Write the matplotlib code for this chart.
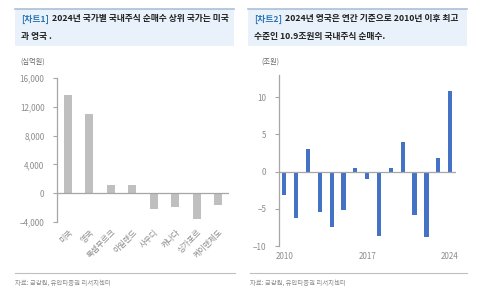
import matplotlib
matplotlib.use("Agg")
import matplotlib.pyplot as plt
from matplotlib.patches import Rectangle
from matplotlib.lines import Line2D
from matplotlib.ticker import StrMethodFormatter

plt.rcParams['font.family'] = ['Noto Sans CJK KR', 'DejaVu Sans']
plt.rcParams['axes.unicode_minus'] = True

# chart 1: 2024 country net buying (billion KRW)
countries = ["미국", "영국", "룩셈부르크", "아일랜드", "사우디", "캐나다", "싱가포르", "케이맨제도"]
net_buy_2024 = [13700, 11000, 1200, 1200, -2200, -1900, -3600, -1700]

# chart 2: UK yearly net buying (trillion KRW)
years = list(range(2010, 2025))
uk_net_buy = [-3.1, -6.2, 3.1, -5.4, -7.4, -5.2, 0.5, -1.0, -8.7, 0.5, 4.0, -5.8, -8.8, 1.9, 10.9]
year_ticks = [2010, 2017, 2024]

W, H = 500, 292
fig = plt.figure(figsize=(W / 100, H / 100), dpi=100)

GRAY_TXT = "#8c8c8c"
AXIS_C = "#a6a6a6"
TITLE_FS = 6.3


def fx(px):
    return px / W


def fy(py):
    return 1 - py / H


def header(x0, x1, tag, rest1, line2):
    fig.patches.append(Rectangle((fx(x0), fy(46)), fx(x1 - x0), (46 - 9) / H,
                                 transform=fig.transFigure, facecolor="#e9f2fb",
                                 edgecolor="none", zorder=0))
    fig.lines.append(Line2D([fx(x0), fx(x1)], [fy(9), fy(9)], transform=fig.transFigure,
                            color="#a9c0d8", lw=1.2))
    t = fig.text(fx(x0 + 6), fy(19), tag, color="#2e75b6", fontsize=TITLE_FS,
                 fontweight="bold", va="center")
    r = fig.canvas.get_renderer()
    bb = t.get_window_extent(renderer=r)
    fig.text(fx(bb.x1 + 3), fy(19), rest1, color="#222222", fontsize=TITLE_FS,
             fontweight="bold", va="center")
    fig.text(fx(x0 + 6), fy(36), line2, color="#222222", fontsize=TITLE_FS,
             fontweight="bold", va="center")


def footer(x0, x1):
    fig.lines.append(Line2D([fx(x0), fx(x1)], [fy(273), fy(273)], transform=fig.transFigure,
                            color="#bfbfbf", lw=0.8))
    fig.text(fx(x0), fy(283), "자료: 금감원, 유안타증권 리서치센터", color=GRAY_TXT,
             fontsize=4.6, va="center")


header(15, 234, "[차트1]", "2024년 국가별 국내주식 순매수 상위 국가는 미국", "과 영국 .")
header(248, 467, "[차트2]", "2024년 영국은 연간 기준으로 2010년 이후 최고", "수준인 10.9조원의 국내주식 순매수.")
footer(15, 235)
footer(250, 467)

# left chart
ax1 = fig.add_axes([fx(57), fy(222), fx(229 - 57), (222 - 78) / H])
ax1.bar(range(len(countries)), net_buy_2024, width=0.36, color="#bfbfbf", zorder=2)
ax1.set_xlim(-0.5, len(countries) - 0.5)
ax1.set_ylim(-4000, 16000)
ax1.set_yticks(range(-4000, 16001, 4000))
ax1.yaxis.set_major_formatter(StrMethodFormatter("{x:,.0f}"))
ax1.axhline(0, color=AXIS_C, lw=0.9, zorder=3)
ax1.set_xticks(range(len(countries)))
ax1.set_xticklabels(countries, rotation=45, ha="right", rotation_mode="anchor",
                    fontsize=5.8, color=GRAY_TXT)
ax1.tick_params(axis="x", length=0, pad=4)
ax1.tick_params(axis="y", length=3, width=0.8, color=AXIS_C, labelsize=5.8,
                labelcolor=GRAY_TXT, pad=6)
for s in ["top", "right", "bottom"]:
    ax1.spines[s].set_visible(False)
ax1.spines["left"].set_color(AXIS_C)
ax1.spines["left"].set_linewidth(0.9)
fig.text(fx(33), fy(62), "(십억원)", color="#666666", fontsize=5.2, ha="center", va="center")

# right chart
ax2 = fig.add_axes([fx(279), fy(246), fx(456 - 279), (246 - 75) / H])
ax2.bar(range(len(years)), uk_net_buy, width=0.36, color="#4472c4", zorder=2)
ax2.set_xlim(-0.45, len(years) - 0.5)
ax2.set_ylim(-10, 13)
ax2.set_yticks([-10, -5, 0, 5, 10])
ax2.axhline(0, color=AXIS_C, lw=0.9, zorder=3)
ax2.set_xticks([years.index(y) for y in year_ticks])
ax2.set_xticklabels([str(y) for y in year_ticks], fontsize=5.8, color=GRAY_TXT)
ax2.tick_params(axis="x", length=0, pad=4)
ax2.tick_params(axis="y", length=3, width=0.8, color=AXIS_C, labelsize=5.8,
                labelcolor=GRAY_TXT, pad=6)
for s in ["top", "right", "bottom"]:
    ax2.spines[s].set_visible(False)
ax2.spines["left"].set_color(AXIS_C)
ax2.spines["left"].set_linewidth(0.9)
fig.text(fx(270), fy(62), "(조원)", color="#666666", fontsize=5.2, ha="center", va="center")

fig.savefig("out.png", dpi=100, facecolor="white")
